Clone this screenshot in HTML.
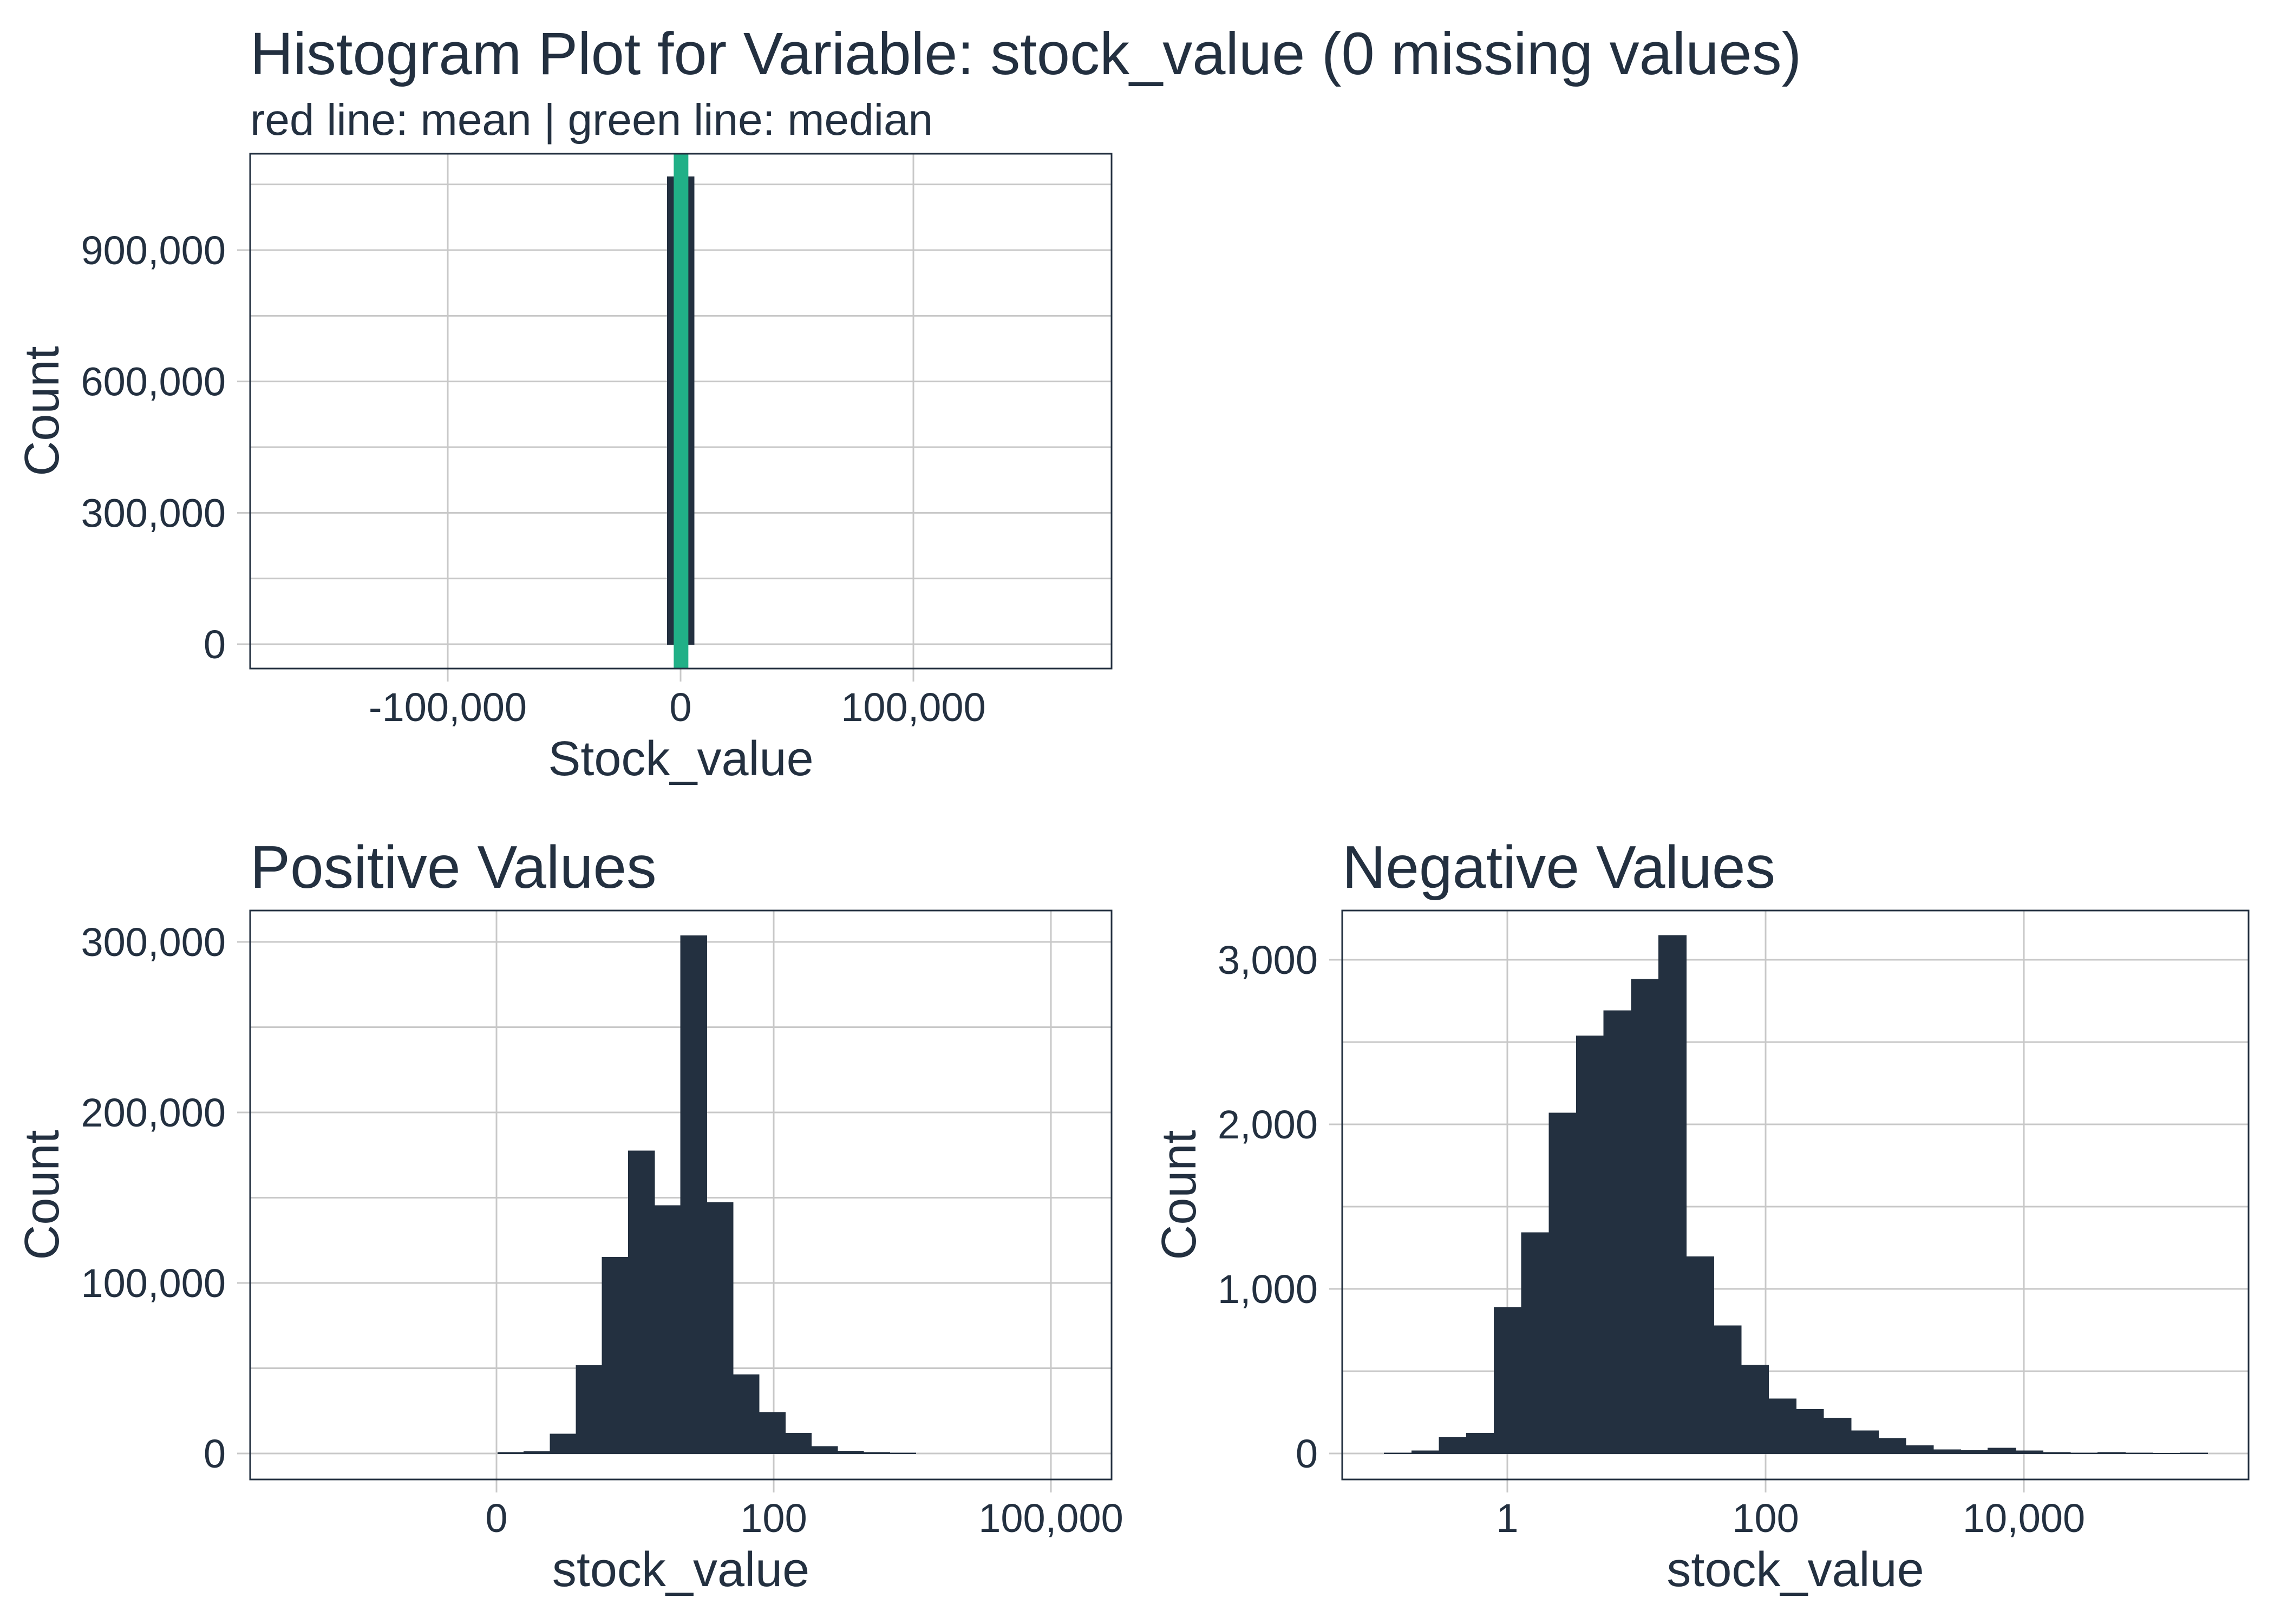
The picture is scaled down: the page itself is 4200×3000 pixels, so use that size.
<!DOCTYPE html>
<html><head><meta charset="utf-8"><style>
html,body{margin:0;padding:0;background:#fff;}
svg{display:block;font-family:"Liberation Sans",Arial,sans-serif;}
</style></head><body>
<svg id="chart" width="4200" height="3000" viewBox="0 0 4200 3000" xmlns="http://www.w3.org/2000/svg">
<rect width="4200" height="3000" fill="#fff"/>
<text x="462" y="137" font-size="110" fill="#233040">Histogram Plot for Variable: stock_value (0 missing values)</text>
<text x="462" y="249" font-size="82" fill="#233040">red line: mean | green line: median</text>
<text x="462" y="1640" font-size="111" fill="#233040">Positive Values</text>
<text x="2479" y="1640" font-size="111" fill="#233040">Negative Values</text>
<g id="p1"></g><g id="p2"></g><g id="p3"></g>
</svg>
<script>
// ---- data: top panel (all values) ----
const allBinStarts = [-5600];
const allBinWidth = 11400;
const allCounts = [1067000];
const allMedian = 200;
const allXTicks = [-100000, 0, 100000];
const allXTickLabels = ["-100,000", "0", "100,000"];
const allYTicks = [0, 300000, 600000, 900000];
const allYTickLabels = ["0", "300,000", "600,000", "900,000"];
const allYMinor = [150000, 450000, 750000, 1050000];

// ---- data: positive values (transformed axis units) ----
const posBinStart = 0.005;
const posBinWidth = 0.0942;
const posCounts = [500, 1000, 11300, 51500, 115000, 177400, 145300, 303600, 147000, 46100, 24000, 11900, 4000, 1400, 600, 300];
const posXTicks = [0, 1, 2];
const posXTickLabels = ["0", "100", "100,000"];
const posYTicks = [0, 100000, 200000, 300000];
const posYTickLabels = ["0", "100,000", "200,000", "300,000"];
const posYMinor = [50000, 150000, 250000];

// ---- data: negative values (log10 of |value|) ----
const negBinStart = -0.952;
const negBinWidth = 0.2125;
const negCounts = [3, 15, 97, 123, 888, 1342, 2069, 2537, 2690, 2880, 3147, 1195, 776, 536, 331, 267, 214, 138, 91, 47, 23, 18, 32, 15, 6, 3, 5, 3, 1, 3];
const negXTicks = [0, 2, 4];
const negXTickLabels = ["1", "100", "10,000"];
const negYTicks = [0, 1000, 2000, 3000];
const negYTickLabels = ["0", "1,000", "2,000", "3,000"];
const negYMinor = [500, 1500, 2500];

const NS = "http://www.w3.org/2000/svg";
const INK = "#233040", GRID = "#c8c8c8";
function mk(parent, tag, attrs){ const e=document.createElementNS(NS,tag); for(const k in attrs) e.setAttribute(k,attrs[k]); parent.appendChild(e); return e; }
function lin(d0,d1,r0,r1){ return v => r0 + (v-d0)/(d1-d0)*(r1-r0); }

function panel(g, box, xs, ys, xT, xTL, yT, yTL, yMinor, xTitle, key){
  const {l,r,t,b} = box;
  for(const v of yMinor){ const y=ys(v);
    const ln=mk(g,"line",{x1:l,x2:r,y1:y,y2:y,stroke:GRID,"stroke-width":3});
    
     }
  yT.forEach((v,i)=>{ const y=ys(v);
    const ln=mk(g,"line",{x1:l-24,x2:r,y1:y,y2:y,stroke:GRID,"stroke-width":3});
    
    
    const tx=mk(g,"text",{x:l-45,y:y+26,"font-size":74,fill:INK,"text-anchor":"end"});
    tx.textContent=yTL[i];
    
     });
  xT.forEach((v,i)=>{ const x=xs(v);
    const ln=mk(g,"line",{x1:x,x2:x,y1:t,y2:b+24,stroke:GRID,"stroke-width":3});
    
    
    const tx=mk(g,"text",{x:x,y:b+97,"font-size":74,fill:INK,"text-anchor":"middle"});
    tx.textContent=xTL[i];
    
     });
  const xt=mk(g,"text",{x:(l+r)/2,y:b+197,"font-size":90,fill:INK,"text-anchor":"middle"});
  xt.textContent=xTitle;
  
  
  const cy=(t+b)/2, cx=box.yTitleX;
  const yt=mk(g,"text",{x:cx,y:cy,"font-size":90,fill:INK,"text-anchor":"middle",transform:`rotate(-90 ${cx} ${cy})`});
  yt.textContent="Count";
  
  
}
function frame(g,box,key){
  const fr=mk(g,"rect",{x:box.l,y:box.t,width:box.r-box.l,height:box.b-box.t,fill:"none",stroke:INK,"stroke-width":3});
  
  
}
function bars(g, starts, width, counts, xs, ys, key){
  counts.forEach((c,i)=>{
    const x0=xs(starts(i)), x1=xs(starts(i)+width), y=ys(c), y0=ys(0);
    const rc=mk(g,"rect",{x:x0,y:y,width:x1-x0,height:y0-y,fill:INK,stroke:INK,"stroke-width":1.5,"shape-rendering":"crispEdges"});
    
    
  });
}

// top panel
{ const g=document.getElementById("p1");
  const box={l:462,r:2053,t:284,b:1235,yTitleX:108};
  const xs=lin(0,100000,1257,1687), ys=lin(0,900000,1190,462);
  panel(g,box,xs,ys,allXTicks,allXTickLabels,allYTicks,allYTickLabels,allYMinor,"Stock_value","overall");
  bars(g,i=>allBinStarts[i],allBinWidth,allCounts,xs,ys,"overall");
  const x=xs(allMedian);
  const md=mk(g,"rect",{x:x-13.5,y:box.t,width:27,height:box.b-box.t,fill:"#21b087"});
  
  
  frame(g,box,"overall"); }

// positive panel
{ const g=document.getElementById("p2");
  const box={l:462,r:2053,t:1682,b:2733,yTitleX:108};
  const xs=lin(0,1,917,1429), ys=lin(0,300000,2685,1740);
  panel(g,box,xs,ys,posXTicks,posXTickLabels,posYTicks,posYTickLabels,posYMinor,"stock_value","positive");
  bars(g,i=>posBinStart+i*posBinWidth,posBinWidth,posCounts,xs,ys,"positive");
  frame(g,box,"positive"); }

// negative panel
{ const g=document.getElementById("p3");
  const box={l:2479,r:4153,t:1682,b:2733,yTitleX:2208};
  const xs=lin(0,2,2784,3261), ys=lin(0,1000,2685,2381);
  panel(g,box,xs,ys,negXTicks,negXTickLabels,negYTicks,negYTickLabels,negYMinor,"stock_value","negative");
  bars(g,i=>negBinStart+i*negBinWidth,negBinWidth,negCounts,xs,ys,"negative");
  frame(g,box,"negative"); }
</script>
</body></html>
